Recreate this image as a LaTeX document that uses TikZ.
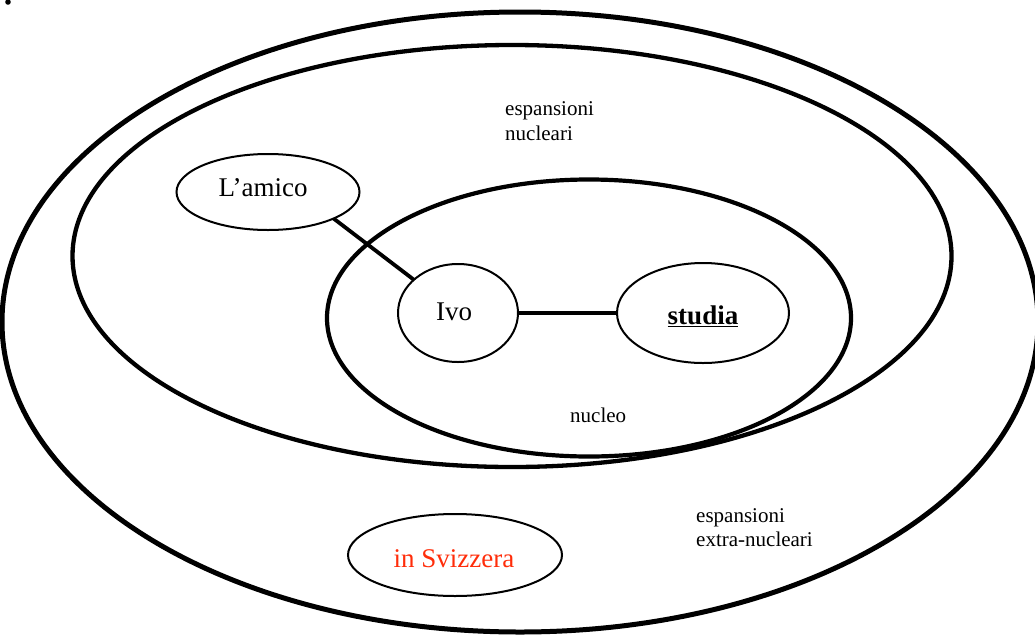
\documentclass[tikz,border=0pt]{standalone}
\usepackage{fontspec}
\setmainfont{Liberation Serif}
\usetikzlibrary{shapes.geometric}
\definecolor{svred}{RGB}{255,45,10}
\begin{document}
\begin{tikzpicture}[x=1pt,y=-1pt,
  ring/.style={draw,ellipse,inner sep=0pt,outer sep=0pt},
  bubble/.style={draw,ellipse,line width=2pt,inner sep=0pt,outer sep=0pt},
  link/.style={line width=3.8pt},
  lbl/.style={anchor=base west,inner sep=0pt,font=\fontsize{21}{25}\selectfont},
  word/.style={anchor=base,inner sep=0pt,font=\fontsize{27}{31}\selectfont}]
\useasboundingbox (0,0) rectangle (1035,635);
\clip (0,0) rectangle (1035,635);
\fill (8,2) circle (2.8pt);
% nested rings
\node[ring,line width=5pt,minimum width=1036pt,minimum height=620pt] (outer) at (520,322) {};
\node[ring,line width=4.3pt,minimum width=879pt,minimum height=422pt] (middle) at (512,256) {};
\node[ring,line width=4.2pt,minimum width=524pt,minimum height=277pt] (inner) at (589,318) {};
% bubbles
\node[bubble,minimum width=183pt,minimum height=76pt] (lamico) at (268,192) {};
\node[bubble,minimum width=120pt,minimum height=98pt] (ivo) at (458,313) {};
\node[bubble,minimum width=172pt,minimum height=100pt] (studia) at (703,313) {};
\node[bubble,minimum width=214pt,minimum height=82pt] (svizzera) at (455,555) {};
% connectors
\draw[link] (lamico.-22) -- (ivo.143);
\draw[link] (ivo.east) -- (studia.west);
% texts
\node[word] (tlamico) at (263,196) {L’amico};
\node[word] (tivo) at (454,320) {Ivo};
\node[word] (tstudia) at (703,324) {\underline{\textbf{studia}}};
\node[word,text=svred] (tsviz) at (454,567) {in Svizzera};
\node[lbl] (en1) at (505,115) {espansioni};
\node[lbl] (en2) at (505,140) {nucleari};
\node[lbl] (nuc) at (570,422) {nucleo};
\node[lbl] (ex1) at (696,522) {espansioni};
\node[lbl] (ex2) at (696,546) {extra-nucleari};
\end{tikzpicture}
\end{document}
